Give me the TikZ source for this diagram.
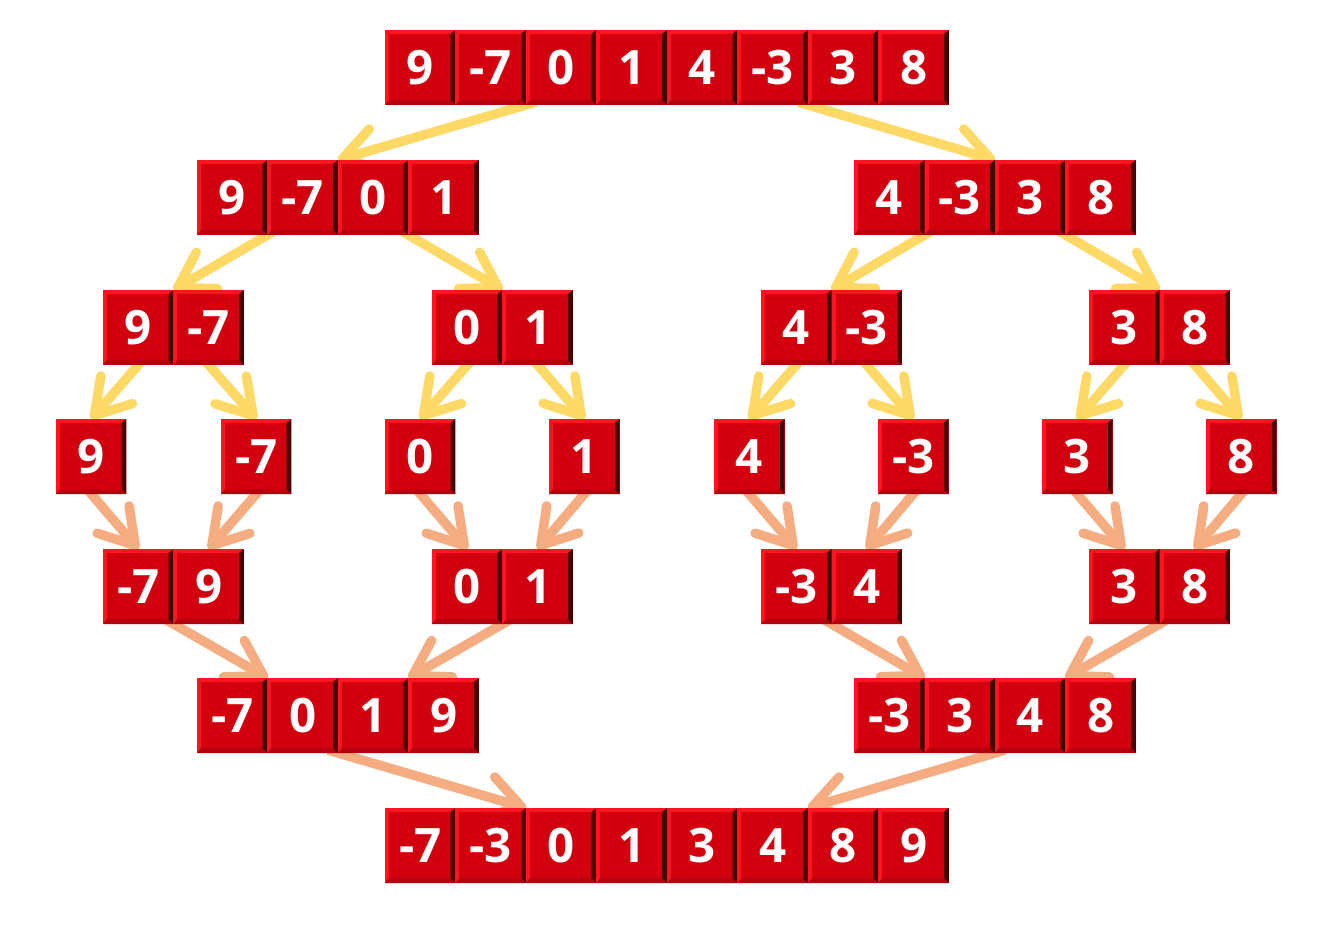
\documentclass[tikz,border=0pt]{standalone}
\usepackage{fontspec}
\setmainfont{Open Sans}
\usepackage{tikz}
\usetikzlibrary{arrows.meta,calc,positioning,backgrounds}
\definecolor{cellface}{HTML}{D2000F}
\definecolor{cellhi}{HTML}{FF1420}
\definecolor{cellshade}{HTML}{4A0000}
\definecolor{cellbottom}{HTML}{B5000D}
\definecolor{splitcol}{HTML}{FFD966}
\definecolor{mergecol}{HTML}{F4AC80}
\tikzset{
  cell/.style={minimum width=1.41cm, minimum height=1.5cm, inner sep=0pt, outer sep=0pt,
    fill=cellhi, text=white, font=\fontsize{27}{29}\selectfont\bfseries,
    path picture={
      \coordinate (pnw) at (path picture bounding box.north west);
      \coordinate (pne) at (path picture bounding box.north east);
      \coordinate (psw) at (path picture bounding box.south west);
      \coordinate (pse) at (path picture bounding box.south east);
      \fill[cellbottom] (psw) -- (pse) -- ++(-0.1cm,0.1cm) -- ($(psw)+(0.08cm,0.1cm)$) -- cycle;
      \fill[cellshade] (pne) -- (pse) -- ++(-0.1cm,0.1cm) -- ($(pne)+(-0.1cm,-0.08cm)$) -- cycle;
      \fill[cellface] ($(pnw)+(0.08cm,-0.08cm)$) rectangle ($(pse)+(-0.1cm,0.1cm)$);
    }},
  split/.style={draw=splitcol, line width=0.19cm, shorten <=-0.2cm,
    -{Straight Barb[length=0.68cm,width=0.84cm,round]}},
  merge/.style={draw=mergecol, line width=0.19cm, shorten <=-0.2cm,
    -{Straight Barb[length=0.68cm,width=0.84cm,round]}},
}
\begin{document}
\begin{tikzpicture}[x=0.02cm,y=-0.02cm]
  \useasboundingbox (0,0) rectangle (1322,930);
  % input array
  \node[cell] (t1) at (420.25,67.5) {9};
  \node[cell,right=0pt of t1] (t2) {-7};
  \node[cell,right=0pt of t2] (t3) {0};
  \node[cell,right=0pt of t3] (t4) {1};
  \node[cell,right=0pt of t4] (t5) {4};
  \node[cell,right=0pt of t5] (t6) {-3};
  \node[cell,right=0pt of t6] (t7) {3};
  \node[cell,right=0pt of t7] (t8) {8};
  % first split
  \node[cell] (L1) at (232.25,197.5) {9};
  \node[cell,right=0pt of L1] (L2) {-7};
  \node[cell,right=0pt of L2] (L3) {0};
  \node[cell,right=0pt of L3] (L4) {1};
  \node[cell] (R1) at (889.25,197.5) {4};
  \node[cell,right=0pt of R1] (R2) {-3};
  \node[cell,right=0pt of R2] (R3) {3};
  \node[cell,right=0pt of R3] (R4) {8};
  % second split
  \node[cell] (LL1) at (138.25,327.5) {9};
  \node[cell,right=0pt of LL1] (LL2) {-7};
  \node[cell] (LR1) at (467.25,327.5) {0};
  \node[cell,right=0pt of LR1] (LR2) {1};
  \node[cell] (RL1) at (796.25,327.5) {4};
  \node[cell,right=0pt of RL1] (RL2) {-3};
  \node[cell] (RR1) at (1124.25,327.5) {3};
  \node[cell,right=0pt of RR1] (RR2) {8};
  % single elements
  \node[cell] (e1) at (91.25,456.5) {9};
  \node[cell] (e2) at (256.25,456.5) {-7};
  \node[cell] (e3) at (420.25,456.5) {0};
  \node[cell] (e4) at (584.25,456.5) {1};
  \node[cell] (e5) at (749.25,456.5) {4};
  \node[cell] (e6) at (913.25,456.5) {-3};
  \node[cell] (e7) at (1077.25,456.5) {3};
  \node[cell] (e8) at (1241.25,456.5) {8};
  % first merge
  \node[cell] (ma1) at (138.25,586.5) {-7};
  \node[cell,right=0pt of ma1] (ma2) {9};
  \node[cell] (mb1) at (467.25,586.5) {0};
  \node[cell,right=0pt of mb1] (mb2) {1};
  \node[cell] (mc1) at (796.25,586.5) {-3};
  \node[cell,right=0pt of mc1] (mc2) {4};
  \node[cell] (md1) at (1124.25,586.5) {3};
  \node[cell,right=0pt of md1] (md2) {8};
  % second merge
  \node[cell] (mL1) at (232.25,715.5) {-7};
  \node[cell,right=0pt of mL1] (mL2) {0};
  \node[cell,right=0pt of mL2] (mL3) {1};
  \node[cell,right=0pt of mL3] (mL4) {9};
  \node[cell] (mR1) at (889.25,715.5) {-3};
  \node[cell,right=0pt of mR1] (mR2) {3};
  \node[cell,right=0pt of mR2] (mR3) {4};
  \node[cell,right=0pt of mR3] (mR4) {8};
  % sorted array
  \node[cell] (f1) at (420.25,845.5) {-7};
  \node[cell,right=0pt of f1] (f2) {-3};
  \node[cell,right=0pt of f2] (f3) {0};
  \node[cell,right=0pt of f3] (f4) {1};
  \node[cell,right=0pt of f4] (f5) {3};
  \node[cell,right=0pt of f5] (f6) {4};
  \node[cell,right=0pt of f6] (f7) {8};
  \node[cell,right=0pt of f7] (f8) {9};
  \begin{scope}[on background layer]
    % splitting
    \draw[split] (t2.south east) -- (L2.north east);
    \draw[split] (t6.south east) -- (R2.north east);
    \draw[split] (L1.south east) -- (LL1.north east);
    \draw[split] (L3.south east) -- (LR1.north east);
    \draw[split] (R1.south east) -- (RL1.north east);
    \draw[split] (R3.south east) -- (RR1.north east);
    \draw[split] (LL1.south) -- (e1.north);
    \draw[split] (LL2.south) -- (e2.north);
    \draw[split] (LR1.south) -- (e3.north);
    \draw[split] (LR2.south) -- (e4.north);
    \draw[split] (RL1.south) -- (e5.north);
    \draw[split] (RL2.south) -- (e6.north);
    \draw[split] (RR1.south) -- (e7.north);
    \draw[split] (RR2.south) -- (e8.north);
    % merging
    \draw[merge] (e1.south) -- (ma1.north);
    \draw[merge] (e2.south) -- (ma2.north);
    \draw[merge] (e3.south) -- (mb1.north);
    \draw[merge] (e4.south) -- (mb2.north);
    \draw[merge] (e5.south) -- (mc1.north);
    \draw[merge] (e6.south) -- (mc2.north);
    \draw[merge] (e7.south) -- (md1.north);
    \draw[merge] (e8.south) -- (md2.north);
    \draw[merge] (ma1.south east) -- (mL1.north east);
    \draw[merge] (mb1.south east) -- (mL3.north east);
    \draw[merge] (mc1.south east) -- (mR1.north east);
    \draw[merge] (md1.south east) -- (mR3.north east);
    \draw[merge] (mL2.south east) -- (f2.north east);
    \draw[merge] (mR2.south east) -- (f6.north east);
  \end{scope}
\end{tikzpicture}
\end{document}
